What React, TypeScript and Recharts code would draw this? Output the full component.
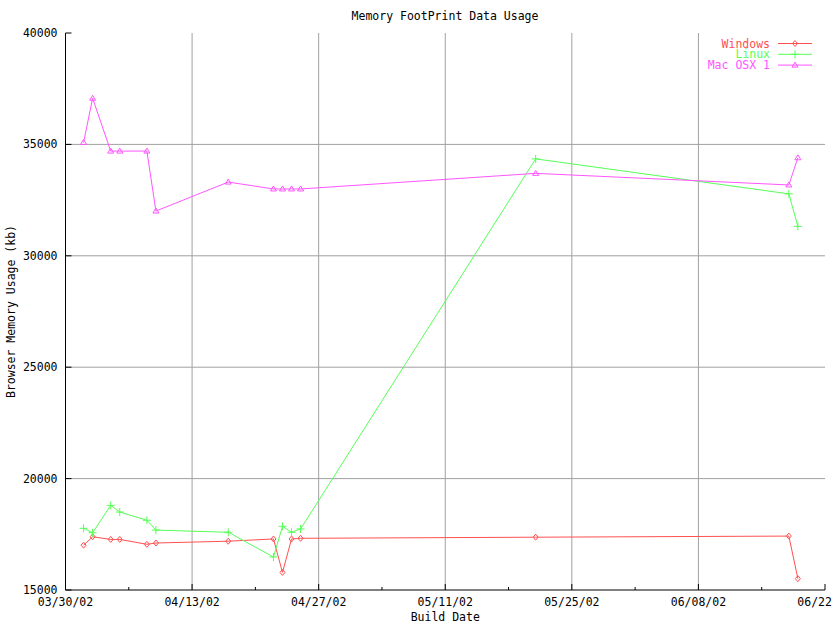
import React from "react";
import { LineChart, Line, XAxis, YAxis, CartesianGrid, Legend } from "recharts";

const buildDay = [2, 3, 5, 6, 9, 10, 18, 23, 24, 25, 26, 52, 80, 81];
const windowsKb = [17010, 17390, 17270, 17270, 17050, 17110, 17190, 17290, 15790, 17290, 17320, 17370, 17420, 15510];
const linuxKb = [17770, 17570, 18800, 18500, 18130, 17690, 17590, 16480, 17860, 17590, 17740, 34350, 32780, 31320];
const macKb = [35090, 37070, 34700, 34700, 34700, 32010, 33310, 33000, 33000, 33000, 33000, 33700, 33180, 34400];

const xMajorTicks = [0, 14, 28, 42, 56, 70, 84];
const xMinorTicks = [7, 21, 35, 49, 63, 77];
const xTickLabels = ["03/30/02", "04/13/02", "04/27/02", "05/11/02", "05/25/02", "06/08/02", "06/22/02"];
const yTicks = [15000, 20000, 25000, 30000, 35000, 40000];

const seriesNames = ["Windows", "Linux", "Mac OSX 1"];
const seriesKeys = ["windows", "linux", "mac"];
const seriesColors = ["#ff5050", "#55ff55", "#ff55ff"];
const seriesMarkers = ["diamond", "plus", "triangle"];

const data = buildDay.map((d, i) => ({ day: d, windows: windowsKb[i], linux: linuxKb[i], mac: macKb[i] }));
const allXTicks = [...xMajorTicks, ...xMinorTicks].sort((a, b) => a - b);

const FONT = "'DejaVu Sans Mono', 'Liberation Mono', monospace";
const FS = 11.5;

function Marker({ kind, cx, cy, color }: { kind: string; cx: number; cy: number; color: string }) {
  if (kind === "diamond")
    return <path d={`M${cx},${cy - 3}L${cx + 2.5},${cy}L${cx},${cy + 3}L${cx - 2.5},${cy}Z`} fill="none" stroke={color} strokeWidth={1} />;
  if (kind === "plus")
    return <path d={`M${cx - 4},${cy}H${cx + 4}M${cx},${cy - 4}V${cy + 4}`} fill="none" stroke={color} strokeWidth={1} />;
  return <path d={`M${cx},${cy - 3}L${cx + 3},${cy + 2}L${cx - 3},${cy + 2}Z`} fill="none" stroke={color} strokeWidth={1} />;
}

const XTickBottom = (props: any) => {
  const { x, y, payload } = props;
  const v = payload.value;
  const mi = xMajorTicks.indexOf(v);
  const major = mi >= 0;
  return (
    <g>
      <line x1={x} x2={x} y1={y} y2={y - (major ? 6 : 3)} stroke="#000" />
      {major && (
        <text x={x} y={y + 12} textAnchor="middle" dominantBaseline="central" fontFamily={FONT} fontSize={FS} fill="#000">
          {xTickLabels[mi]}
        </text>
      )}
    </g>
  );
};

const XTickTop = (props: any) => {
  const { x, y, payload } = props;
  const major = xMajorTicks.indexOf(payload.value) >= 0;
  return <line x1={x} x2={x} y1={y} y2={y + (major ? 6 : 3)} stroke="#000" />;
};

const YTickLeft = (props: any) => {
  const { x, y, payload } = props;
  return (
    <g>
      <line x1={x} x2={x + 6} y1={y} y2={y} stroke="#000" />
      <text x={x - 8} y={y} textAnchor="end" dominantBaseline="central" fontFamily={FONT} fontSize={FS} fill="#000">
        {payload.value}
      </text>
    </g>
  );
};

const YTickRight = (props: any) => {
  const { x, y } = props;
  return <line x1={x} x2={x - 6} y1={y} y2={y} stroke="#000" />;
};

const LegendContent = (props: any) => {
  const payload = [...(props.payload || [])].sort(
    (a: any, b: any) => seriesKeys.indexOf(a.dataKey) - seriesKeys.indexOf(b.dataKey)
  );
  return (
    <svg width={832} height={80} style={{ display: "block" }}>
      {payload.map((p: any, i: number) => {
        const idx = seriesKeys.indexOf(p.dataKey);
        const yy = 43.5 + i * 10.8;
        return (
          <g key={i}>
            <text x={770} y={yy} textAnchor="end" dominantBaseline="central" fontFamily={FONT} fontSize={FS} fill={p.color}>
              {p.value}
            </text>
            <line x1={778} x2={812} y1={yy} y2={yy} stroke={p.color} />
            <Marker kind={seriesMarkers[idx]} cx={795} cy={yy} color={p.color} />
          </g>
        );
      })}
    </svg>
  );
};

export default function App() {
  return (
    <div style={{ position: "absolute", left: 0, top: 0, width: 832, height: 624, background: "#fff" }}>
      <LineChart width={832} height={624} data={data} margin={{ top: 33, right: 7, bottom: 0, left: 0 }}>
        <CartesianGrid stroke="#a0a0a0" strokeWidth={1} verticalValues={[14, 28, 42, 56, 70]} horizontalValues={[20000, 25000, 30000, 35000]} />
        <XAxis
          dataKey="day"
          type="number"
          domain={[0, 84]}
          ticks={allXTicks}
          interval={0}
          height={34}
          tickSize={0}
          tickMargin={0}
          tickLine={false}
          axisLine={{ stroke: "#000" }}
          tick={<XTickBottom />}
          allowDataOverflow
          label={{
            content: (lp: any) => {
              const vb = lp.viewBox || { x: 65.5, y: 590, width: 759.5 };
              return (
                <text x={vb.x + vb.width / 2} y={vb.y + 27} textAnchor="middle" dominantBaseline="central" fontFamily={FONT} fontSize={FS} fill="#000">
                  Build Date
                </text>
              );
            },
          }}
        />
        <XAxis
          xAxisId="top"
          orientation="top"
          type="number"
          dataKey="day"
          domain={[0, 84]}
          ticks={allXTicks}
          interval={0}
          height={0}
          tickSize={0}
          tickMargin={0}
          tickLine={false}
          axisLine={{ stroke: "#000" }}
          tick={<XTickTop />}
          allowDataOverflow
        />
        <YAxis
          type="number"
          domain={[15000, 40000]}
          ticks={yTicks}
          interval={0}
          width={65.5}
          tickSize={0}
          tickMargin={0}
          tickLine={false}
          axisLine={{ stroke: "#000" }}
          tick={<YTickLeft />}
          allowDataOverflow
          label={{
            content: (lp: any) => {
              const vb = lp.viewBox || { x: 0, y: 33, height: 557 };
              const cx = 11;
              const cy = vb.y + vb.height / 2;
              return (
                <text x={cx} y={cy} transform={`rotate(-90 ${cx} ${cy})`} textAnchor="middle" dominantBaseline="central" fontFamily={FONT} fontSize={FS} fill="#000">
                  Browser Memory Usage (kb)
                </text>
              );
            },
          }}
        />
        <YAxis
          yAxisId="right"
          orientation="right"
          type="number"
          domain={[15000, 40000]}
          ticks={yTicks}
          interval={0}
          width={0}
          tickSize={0}
          tickMargin={0}
          tickLine={false}
          axisLine={{ stroke: "#000" }}
          tick={<YTickRight />}
          allowDataOverflow
        />
        {seriesKeys.map((k, i) => (
          <Line
            key={k}
            dataKey={k}
            name={seriesNames[i]}
            stroke={seriesColors[i]}
            strokeWidth={1}
            isAnimationActive={false}
            type="linear"
            dot={(p: any) => <Marker key={`${k}-${p.index}`} kind={seriesMarkers[i]} cx={p.cx} cy={p.cy} color={seriesColors[i]} />}
            activeDot={false}
          />
        ))}
        <Legend
          layout="horizontal"
          verticalAlign="middle"
          align="center"
          wrapperStyle={{ position: "absolute", top: 0, left: 0, width: 832, height: 80 }}
          content={<LegendContent />}
        />
      </LineChart>
      <svg width={832} height={30} style={{ position: "absolute", left: 0, top: 0 }}>
        <text x={445} y={16} textAnchor="middle" dominantBaseline="central" fontFamily={FONT} fontSize={FS} fill="#000">
          Memory FootPrint Data Usage
        </text>
      </svg>
    </div>
  );
}
